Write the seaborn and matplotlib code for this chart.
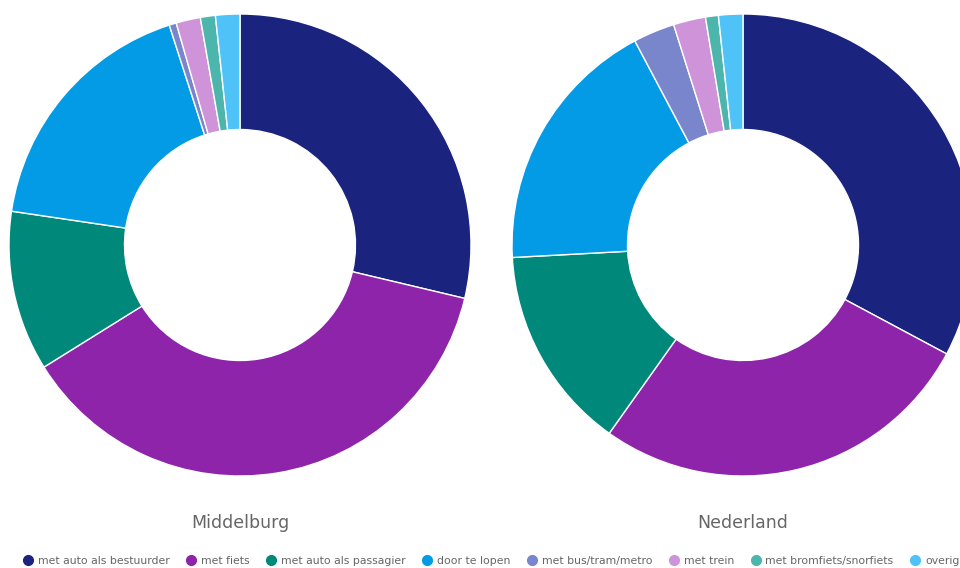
import matplotlib
matplotlib.use('Agg')
import matplotlib.pyplot as plt
import seaborn as sns
from matplotlib.lines import Line2D

# --- DATA ---
CATEGORIES = [
    "met auto als bestuurder", "met fiets", "met auto als passagier", "door te lopen",
    "met bus/tram/metro", "met trein", "met bromfiets/snorfiets", "overig",
]
MIDDELBURG = [28.7, 37.4, 11.2, 17.7, 0.5, 1.7, 1.05, 1.7]
NEDERLAND = [32.8, 27.0, 14.3, 18.1, 2.9, 2.25, 0.9, 1.7]
REGIONS = ["Middelburg", "Nederland"]
COLORS = ["#1a237e", "#8e24aa", "#00897b", "#039be5",
          "#7986cb", "#ce93d8", "#4db6ac", "#4fc3f7"]

W, H = 960, 568


def draw_donut(fig, cx, cy, r, values, title):
    """Teken een donut in pixelcoordinaten (cy vanaf boven)."""
    ax = fig.add_axes([(cx - r) / W, (H - cy - r) / H, 2 * r / W, 2 * r / H])
    ax.pie(values, colors=sns.color_palette(COLORS), startangle=90, counterclock=False,
           radius=1, wedgeprops={"width": 0.5, "edgecolor": "white", "linewidth": 1})
    ax.set_xlim(-1, 1)
    ax.set_ylim(-1, 1)
    ax.set_aspect("equal")
    ax.axis("off")
    fig.text(cx / W, 1 - 523 / H, title, ha="center", va="center",
             fontsize=12.5, color="#666666")


def main():
    sns.set_theme(style="white")
    plt.rcParams['font.family'] = ['DejaVu Sans']
    fig = plt.figure(figsize=(W / 100, H / 100), dpi=100)

    draw_donut(fig, 240, 245, 231, MIDDELBURG, REGIONS[0])
    draw_donut(fig, 743, 245, 231, NEDERLAND, REGIONS[1])

    handles = [Line2D([0], [0], marker="o", linestyle="", markersize=7,
                      markerfacecolor=c, markeredgecolor=c) for c in COLORS]
    fig.legend(handles, CATEGORIES, loc="center", bbox_to_anchor=(0.5 + 11 / W, 1 - 561 / H),
               ncol=len(CATEGORIES), frameon=False, fontsize=7.8, handlelength=1,
               handletextpad=0.4, columnspacing=1.5, labelcolor="#666666")

    fig.savefig("out.png", dpi=100)


if __name__ == "__main__":
    main()
